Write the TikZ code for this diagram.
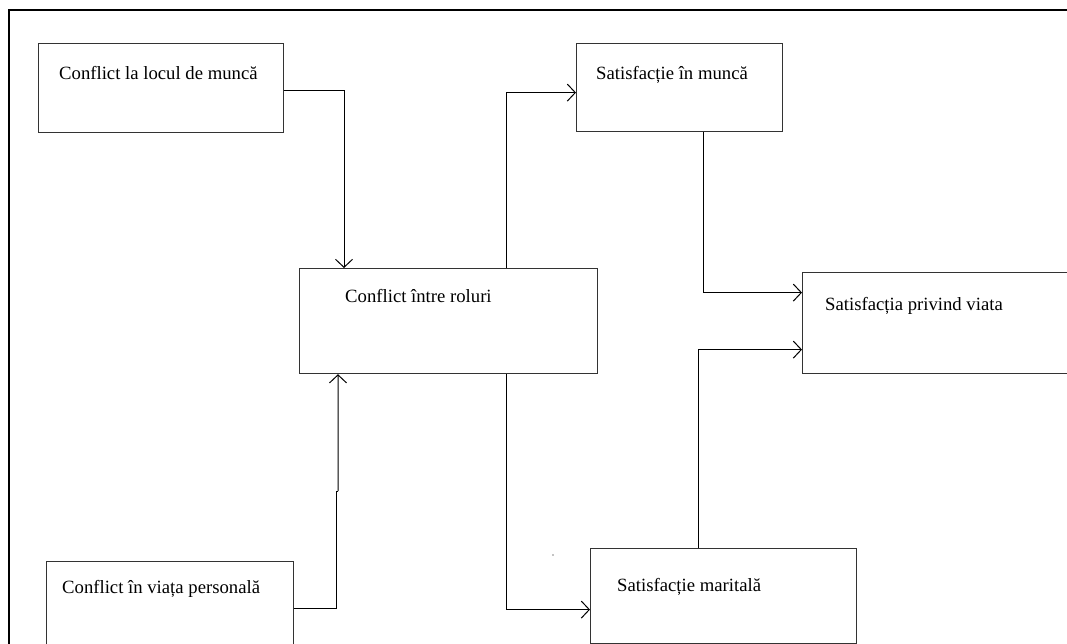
\documentclass[tikz,border=0pt]{standalone}
\usepackage{fontspec}
\setmainfont{Liberation Serif}
\usetikzlibrary{arrows.meta}
\begin{document}
\begin{tikzpicture}[x=1bp,y=-1bp,
  boxst/.style={draw=black!80,line width=1.2bp,rectangle,anchor=north west,inner sep=0pt},
  txt/.style={anchor=base west,inner sep=0pt,font=\fontsize{18.7bp}{21bp}\selectfont},
  conn/.style={draw=black,line width=1bp},
  arr/.style={conn,-{Straight Barb[length=8bp,width=17bp,line width=1bp]}}]
\useasboundingbox (0,0) rectangle (1067,644);
\clip (0,0) rectangle (1067,644);
% outer frame (top and left edges)
\draw[line width=2.6bp] (9,700) -- (9,10) -- (1100,10);
% boxes
\node[boxst,minimum width=245bp,minimum height=89bp] (b1) at (38,43) {};
\node[boxst,minimum width=298bp,minimum height=105bp] (center) at (299,268) {};
\node[boxst,minimum width=206bp,minimum height=88bp] (munca) at (576,43) {};
\node[boxst,minimum width=300bp,minimum height=101bp] (viata) at (802,272) {};
\node[boxst,minimum width=266bp,minimum height=95bp] (marital) at (590,548) {};
\node[boxst,minimum width=247bp,minimum height=94bp] (personal) at (46,561) {};
% texts
\node[txt] (t1) at (59,80) {Conflict la locul de muncă};
\node[txt] (tc) at (345,303) {Conflict între roluri};
\node[txt] (tm) at (596,80) {Satisfacție în muncă};
\node[txt] (tv) at (825,311) {Satisfacția privind viata};
\node[txt] (tma) at (617,591) {Satisfacție maritală};
\node[txt] (tp) at (62,593) {Conflict în viața personală};
% connectors
\draw[arr] ([yshift=-2.5bp]b1.east) -| ([xshift=45bp]center.north west);
\draw[arr] ([xshift=207bp]center.north west) |- ([yshift=-5bp]munca.west);
\draw[arr] ([xshift=127bp]munca.south west) |- ([yshift=30.5bp]viata.west);
\draw[arr] ([xshift=108bp]marital.north west) |- ([yshift=-26.5bp]viata.west);
\draw[arr] ([xshift=207bp]center.south west) |- ([yshift=-13.5bp]marital.west);
\coordinate (jog1) at (336,491);
\coordinate (jog2) at (338,491);
\draw[conn] (personal.east) -| (jog1) -- (jog2);
\draw[arr] (jog2) -- ([xshift=39bp]center.south west);
% stray dot
\fill (553,555) circle (0.6);
\end{tikzpicture}
\end{document}
